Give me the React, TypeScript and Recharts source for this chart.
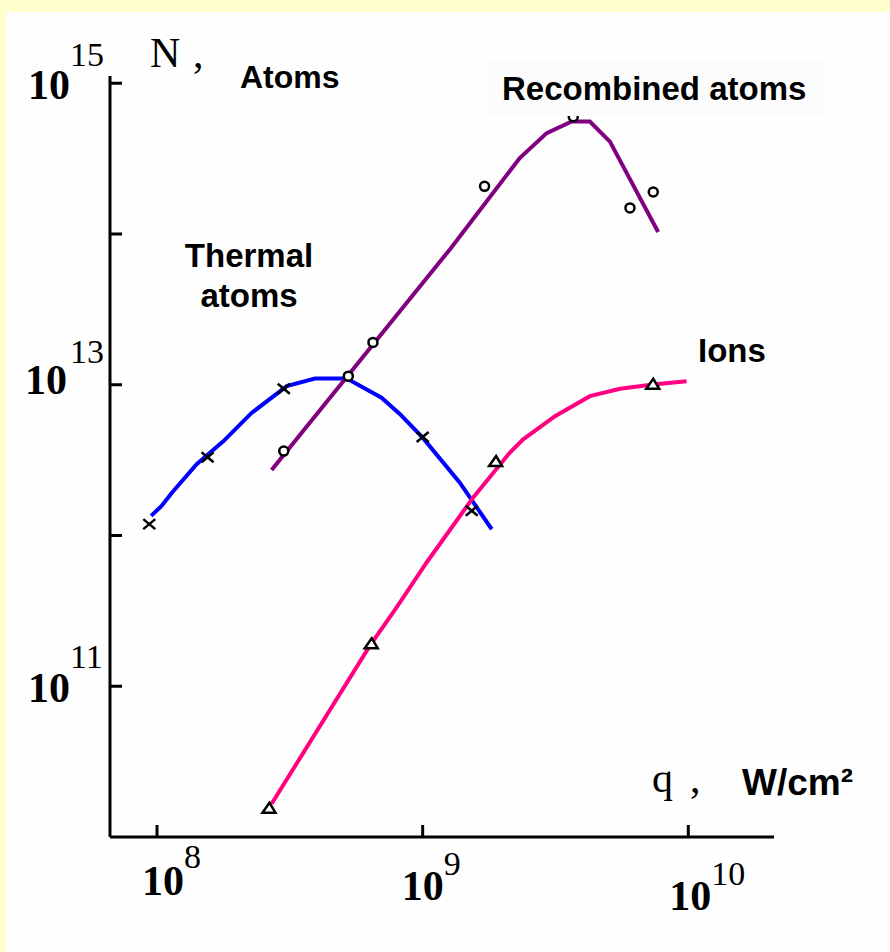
import React from "react";
import { ComposedChart, Line, Scatter, XAxis, YAxis } from "recharts";

// q in W/cm2, N = number of particles
const thermalQ = [9.5e7, 1.04e8, 1.14e8, 1.41e8, 1.78e8, 2.27e8, 3.08e8, 3.93e8, 5.03e8, 5.33e8, 7.0e8, 8.2e8, 1.0e9, 1.38e9, 1.82e9];
const thermalN = [1.35e12, 1.57e12, 1.93e12, 2.97e12, 4.23e12, 6.5e12, 9.8e12, 1.1e13, 1.1e13, 1.07e13, 8.2e12, 6.4e12, 4.46e12, 2.24e12, 1.1e12];
const thermalPtQ = [9.35e7, 1.55e8, 3.0e8, 1.0e9, 1.53e9];
const thermalPtN = [1.19e12, 3.3e12, 9.4e12, 4.5e12, 1.46e12];

const recombQ = [2.7e8, 1.27e9, 2.32e9, 2.93e9, 3.64e9, 4.26e9, 5.07e9, 7.7e9];
const recombN = [2.72e12, 7.96e13, 3.19e14, 4.67e14, 5.57e14, 5.57e14, 4.1e14, 1.03e14];
const recombPtQ = [3.0e8, 5.25e8, 6.5e8, 1.71e9, 3.69e9, 6.03e9, 7.38e9];
const recombPtN = [3.63e12, 1.14e13, 1.91e13, 2.07e14, 6.0e14, 1.49e14, 1.9e14];

const ionQ = [2.7e8, 6.33e8, 7.98e8, 1.035e9, 1.55e9, 2.13e9, 2.39e9, 3.15e9, 4.26e9, 5.53e9, 7.38e9, 9.85e9];
const ionN = [1.66e10, 1.86e11, 3.34e11, 6.62e11, 1.79e12, 3.55e12, 4.34e12, 6.19e12, 8.4e12, 9.41e12, 1.005e13, 1.056e13];
const ionPtQ = [2.65e8, 6.43e8, 1.89e9, 7.38e9];
const ionPtN = [1.54e10, 1.9e11, 3.07e12, 1.0e13];

const xTicks = [1e8, 1e9, 1e10];
const yTicks = [1e11, 1e12, 1e13, 1e14, 1e15];
const yLabelled = [11, 13, 15];

const rows = (qs: number[], ns: number[]) => qs.map((q, i) => ({ q, n: ns[i] }));

const SERIF = "'Liberation Serif', 'Times New Roman', serif";
const SANS = "'Liberation Sans', Arial, sans-serif";

// per-exponent label offsets, the original labels are not perfectly aligned
const yLabOff: Record<number, { bx: number; by: number; sy: number }> = {
  15: { bx: -40, by: 16, sy: -17 },
  13: { bx: -43, by: 9, sy: -22 },
  11: { bx: -40, by: 16, sy: -18 },
};
const xLabOff: Record<number, { bx: number; by: number; sy: number }> = {
  8: { bx: -15, by: 58, sy: 31 },
  9: { bx: -21, by: 63, sy: 38 },
  10: { bx: -19, by: 73, sy: 48 },
};

const YTick = (props: any) => {
  const { x, y, payload } = props;
  const e = Math.round(Math.log10(payload.value));
  const o = yLabelled.includes(e) ? yLabOff[e] : null;
  return (
    <g>
      <line x1={x} x2={x + 12} y1={y} y2={y} stroke="#000" strokeWidth={3} />
      {o && (
        <>
          <text x={x + o.bx} y={y + o.by} textAnchor="end" fontFamily={SERIF} fontWeight="bold" fontSize={42} fill="#000">10</text>
          <text x={x - 40} y={y + o.sy} fontFamily={SERIF} fontSize={34} fill="#000">{e}</text>
        </>
      )}
    </g>
  );
};

const XTick = (props: any) => {
  const { x, y, payload } = props;
  const e = Math.round(Math.log10(payload.value));
  const o = xLabOff[e];
  return (
    <g>
      <line x1={x} x2={x} y1={y} y2={y - 12} stroke="#000" strokeWidth={3} />
      <text x={x + o.bx} y={y + o.by} fontFamily={SERIF} fontWeight="bold" fontSize={42} fill="#000">10</text>
      <text x={x + o.bx + 42} y={y + o.sy} fontFamily={SERIF} fontSize={34} fill="#000">{e}</text>
    </g>
  );
};

const Cross = (p: any) => (
  <g stroke="#000" strokeWidth={2.5}>
    <line x1={p.cx - 6} y1={p.cy - 5} x2={p.cx + 6} y2={p.cy + 5} />
    <line x1={p.cx - 6} y1={p.cy + 5} x2={p.cx + 6} y2={p.cy - 5} />
  </g>
);
const Ring = (p: any) => <circle cx={p.cx} cy={p.cy} r={4.5} fill="#fff" stroke="#000" strokeWidth={2.5} />;
const Tri = (p: any) => (
  <path d={`M${p.cx - 7},${p.cy + 4} L${p.cx + 6},${p.cy + 4} L${p.cx},${p.cy - 6} Z`} fill="#fff" stroke="#000" strokeWidth={2.5} />
);

// annotation layer sits on top of the chart (the label box hides part of a marker, as in the original)
const Labels = () => (
  <svg width={890} height={952} style={{ position: "absolute", left: 0, top: 0, pointerEvents: "none" }}>
    <rect x={482} y={60} width={348} height={56} fill="#fcfcfc" />
    <text x={150} y={67} fontFamily={SERIF} fontSize={42} fill="#000">N</text>
    <text x={193} y={67} fontFamily={SERIF} fontSize={42} fill="#000">,</text>
    <text x={240} y={88} fontFamily={SANS} fontWeight="bold" fontSize={32} fill="#000">Atoms</text>
    <text x={502} y={100} fontFamily={SANS} fontWeight="bold" fontSize={33} fill="#000">Recombined atoms</text>
    <text x={249} y={267} textAnchor="middle" fontFamily={SANS} fontWeight="bold" fontSize={33} fill="#000">Thermal</text>
    <text x={249} y={307} textAnchor="middle" fontFamily={SANS} fontWeight="bold" fontSize={33} fill="#000">atoms</text>
    <text x={698} y={362} fontFamily={SANS} fontWeight="bold" fontSize={33} fill="#000">Ions</text>
    <text x={652} y={792} fontFamily={SERIF} fontSize={42} fill="#000">q</text>
    <text x={690} y={792} fontFamily={SERIF} fontSize={42} fill="#000">,</text>
    <text x={742} y={795} fontFamily={SANS} fontWeight="bold" fontSize={37} fill="#000">W/cm²</text>
  </svg>
);

export default function App() {
  return (
    <div style={{ position: "absolute", left: 0, top: 0, width: 890, height: 952, background: "#ffffcc" }}>
      <div style={{ position: "absolute", left: 6, top: 12, width: 884, height: 940, background: "#fefefe" }} />
      <div style={{ position: "absolute", left: 0, top: 0 }}>
        <ComposedChart width={890} height={952} margin={{ top: 76, right: 116, bottom: 55, left: 50 }}>
          <XAxis
            type="number"
            dataKey="q"
            scale="log"
            domain={[10 ** 7.823, 10 ** 10.3226]}
            allowDataOverflow
            ticks={xTicks}
            height={60}
            tickSize={0}
            tickMargin={0}
            tickLine={false}
            axisLine={{ stroke: "#000", strokeWidth: 3 }}
            tick={<XTick />}
          />
          <YAxis
            type="number"
            dataKey="n"
            scale="log"
            domain={[1e10, 10 ** 15.048]}
            allowDataOverflow
            ticks={yTicks}
            width={60}
            tickSize={0}
            tickMargin={0}
            tickLine={false}
            axisLine={{ stroke: "#000", strokeWidth: 3 }}
            tick={<YTick />}
          />
          <Line data={rows(thermalQ, thermalN)} dataKey="n" type="linear" stroke="#0000ff" strokeWidth={4} dot={false} isAnimationActive={false} />
          <Line data={rows(recombQ, recombN)} dataKey="n" type="linear" stroke="#800080" strokeWidth={4} dot={false} isAnimationActive={false} />
          <Line data={rows(ionQ, ionN)} dataKey="n" type="linear" stroke="#ff0080" strokeWidth={4} dot={false} isAnimationActive={false} />
          <Scatter data={rows(thermalPtQ, thermalPtN)} dataKey="n" shape={Cross} isAnimationActive={false} />
          <Scatter data={rows(recombPtQ, recombPtN)} dataKey="n" shape={Ring} isAnimationActive={false} />
          <Scatter data={rows(ionPtQ, ionPtN)} dataKey="n" shape={Tri} isAnimationActive={false} />
        </ComposedChart>
      </div>
      <Labels />
    </div>
  );
}
